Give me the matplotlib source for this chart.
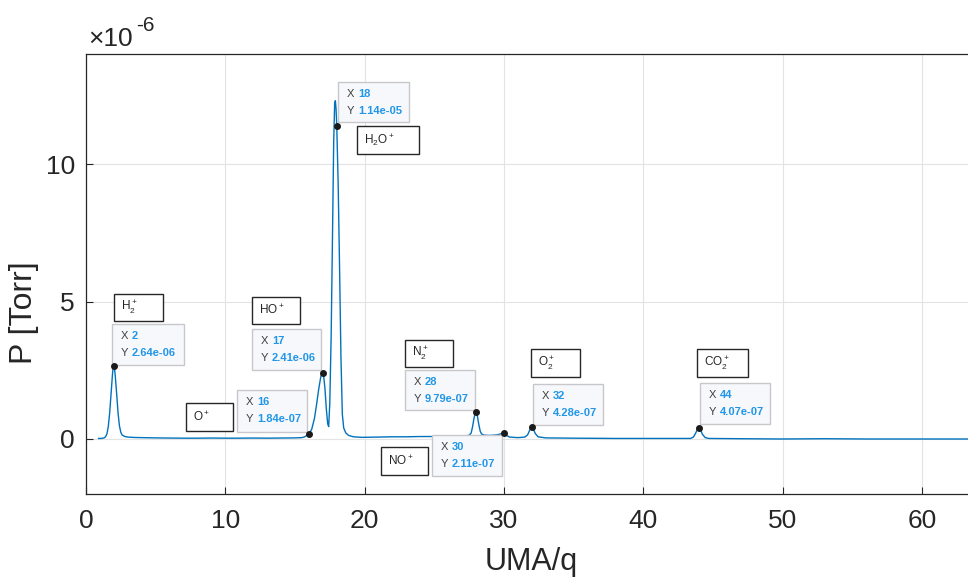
import matplotlib
matplotlib.use("Agg")
import matplotlib.pyplot as plt
from matplotlib.patches import Rectangle

plt.rcParams['font.family'] = ['Liberation Sans', 'DejaVu Sans']
plt.rcParams['mathtext.default'] = 'regular'

# ---- data (pressure in units of 1e-6 Torr) ----
uma = [0.9, 1.1, 1.3, 1.4, 1.5, 1.6, 1.7, 1.8, 1.9, 1.95, 2.0, 2.05, 2.1, 2.2, 2.3, 2.4, 2.5, 2.6, 2.8,
       3.0, 3.5, 4.0, 5, 6, 7, 8, 9, 10, 11, 12, 13, 14, 15, 15.5, 15.7, 15.85, 16.0, 16.2, 16.4,
       16.55, 16.7, 16.85, 16.95, 17.0, 17.05, 17.15, 17.25, 17.35, 17.42, 17.5, 17.6, 17.7, 17.78,
       17.85, 17.9, 17.95, 18.0, 18.1, 18.2, 18.3, 18.4, 18.5, 18.65, 18.85, 19.2, 19.8, 21, 22, 23,
       24, 25, 26, 27, 27.5, 27.65, 27.75, 27.85, 27.95, 28.0, 28.1, 28.2, 28.3, 28.4, 28.6, 29.0,
       29.5, 29.8, 30.0, 30.15, 30.4, 31.0, 31.5, 31.7, 31.85, 31.95, 32.0, 32.1, 32.25, 32.45, 33,
       35, 38, 41, 43.4, 43.6, 43.75, 43.9, 44.0, 44.1, 44.25, 44.45, 44.7, 47, 50, 53, 56, 60, 63.5, 65]
p_utorr = [0.02, 0.02, 0.04, 0.08, 0.18, 0.45, 0.95, 1.65, 2.35, 2.62, 2.64, 2.55, 2.3, 1.65, 0.95, 0.48,
           0.24, 0.14, 0.09, 0.07, 0.055, 0.05, 0.04, 0.035, 0.03, 0.03, 0.035, 0.03, 0.03, 0.035,
           0.03, 0.035, 0.04, 0.05, 0.08, 0.13, 0.184, 0.35, 0.75, 1.25, 1.8, 2.25, 2.42, 2.41, 2.33,
           1.85, 1.1, 0.55, 0.45, 1.3, 3.8, 7.6, 10.8, 12.2, 12.3, 12.0, 11.4, 9.3, 6.3, 3.0, 0.9, 0.4,
           0.22, 0.13, 0.08, 0.06, 0.07, 0.08, 0.08, 0.09, 0.09, 0.1, 0.11, 0.13, 0.22, 0.45, 0.75,
           0.97, 0.979, 0.82, 0.52, 0.28, 0.18, 0.14, 0.13, 0.15, 0.19, 0.211, 0.14, 0.07, 0.05, 0.07,
           0.15, 0.32, 0.42, 0.428, 0.38, 0.2, 0.08, 0.04, 0.03, 0.02, 0.02, 0.02, 0.07, 0.2, 0.36,
           0.407, 0.35, 0.17, 0.05, 0.02, 0.01, 0.0, 0.01, 0.0, 0.0, 0.0, 0.0]

tip_x = [2, 16, 17, 18, 28, 30, 32, 44]
species = [r'$H_2^+$', r'$O^+$', r'$HO^+$', r'$H_2O^+$', r'$N_2^+$', r'$NO^+$', r'$O_2^+$', r'$CO_2^+$']

x_ticks = [0, 10, 20, 30, 40, 50, 60]
y_ticks = [0, 5, 10]

# ---- layout (data coords of boxes) ----
tip_boxes = [(1.87, 2.68, 7.03, 4.17), (10.84, 0.25, 15.87, 1.78), (11.92, 2.50, 16.87, 3.99),
             (18.09, 11.52, 23.19, 12.97), (22.90, 1.05, 27.93, 2.50), (24.84, -1.34, 29.86, 0.14),
             (32.09, 0.51, 37.11, 1.99), (44.08, 0.54, 49.10, 2.03)]
label_boxes = [(2.01, 4.28, 5.53, 5.29), (7.18, 0.29, 10.55, 1.30), (11.92, 4.17, 15.36, 5.18),
               (19.45, 10.36, 23.91, 11.38), (22.90, 2.61, 26.35, 3.59), (21.18, -1.30, 24.55, -0.29),
               (31.95, 2.25, 35.46, 3.26), (43.86, 2.25, 47.52, 3.26)]

W, H = 968, 579
fig = plt.figure(figsize=(W / 100, H / 100), dpi=100)
ax = fig.add_axes([86 / W, (H - 494) / H, 905.5 / W, 440 / H])

line_color = '#0072BD'
ax.plot(uma, p_utorr, color=line_color, lw=1.0, zorder=3)

ax.set_xlim(0, 65)
ax.set_ylim(-2, 14)
ax.set_xticks(x_ticks)
ax.set_yticks(y_ticks)
ax.set_xticklabels([str(t) for t in x_ticks])
ax.set_yticklabels([str(t) for t in y_ticks])
ax.tick_params(direction='in', length=5, width=0.8, colors='#262626', labelsize=19)
ax.tick_params(axis='x', pad=11)
ax.tick_params(axis='y', pad=8)
ax.grid(True, color='#e3e3e3', lw=0.8, zorder=0)
ax.set_axisbelow(True)
for s in ax.spines.values():
    s.set_color('#262626')
    s.set_linewidth(0.9)

xl = ax.set_xlabel('UMA/q', fontsize=22, color='#262626')
ax.xaxis.set_label_coords((531 - 86) / 905.5, (494 - 562) / 440)
xl.set_verticalalignment('center')
yl = ax.set_ylabel('P [Torr]', fontsize=23, color='#262626')
ax.yaxis.set_label_coords((24 - 86) / 905.5, (494 - 313) / 440)
yl.set_verticalalignment('center')

fig.text(88 / W, 1 - 46 / H, '\u00d710', fontsize=19, color='#262626', va='baseline', ha='left')
fig.text(136 / W, 1 - 31 / H, '-6', fontsize=15, color='#262626', va='baseline', ha='left')

tip_blue = '#2196e8'
for x, (bx0, by0, bx1, by1) in zip(tip_x, tip_boxes):
    v = p_utorr[uma.index(x)]
    ax.add_patch(Rectangle((bx0, by0), bx1 - bx0, by1 - by0, facecolor='#f7f8fb',
                           edgecolor='#c8c8cc', lw=1.0, zorder=5))
    ax.plot([x], [v], 'o', color='#1a1a1a', ms=4, zorder=6)
    ax.annotate('X', xy=(bx0, by1), xytext=(9, -12), textcoords='offset pixels',
                fontsize=8, color='#404040', va='center', ha='left', zorder=7)
    ax.annotate(f'{x}', xy=(bx0, by1), xytext=(20, -12), textcoords='offset pixels',
                fontsize=8, color=tip_blue, fontweight='bold', va='center', ha='left', zorder=7)
    ax.annotate('Y', xy=(bx0, by1), xytext=(9, -29), textcoords='offset pixels',
                fontsize=8, color='#404040', va='center', ha='left', zorder=7)
    ax.annotate(f'{v * 1e-6:.2e}', xy=(bx0, by1), xytext=(20, -29), textcoords='offset pixels',
                fontsize=8, color=tip_blue, fontweight='bold', va='center', ha='left', zorder=7)

for name, (lx0, ly0, lx1, ly1) in zip(species, label_boxes):
    ax.add_patch(Rectangle((lx0, ly0), lx1 - lx0, ly1 - ly0, facecolor='white',
                           edgecolor='#262626', lw=1.0, zorder=5))
    ax.annotate(name, xy=(lx0, (ly0 + ly1) / 2), xytext=(7, 0), textcoords='offset pixels',
                fontsize=8.5, color='#262626', va='center', ha='left', zorder=7)

fig.savefig('out.png', dpi=100)
